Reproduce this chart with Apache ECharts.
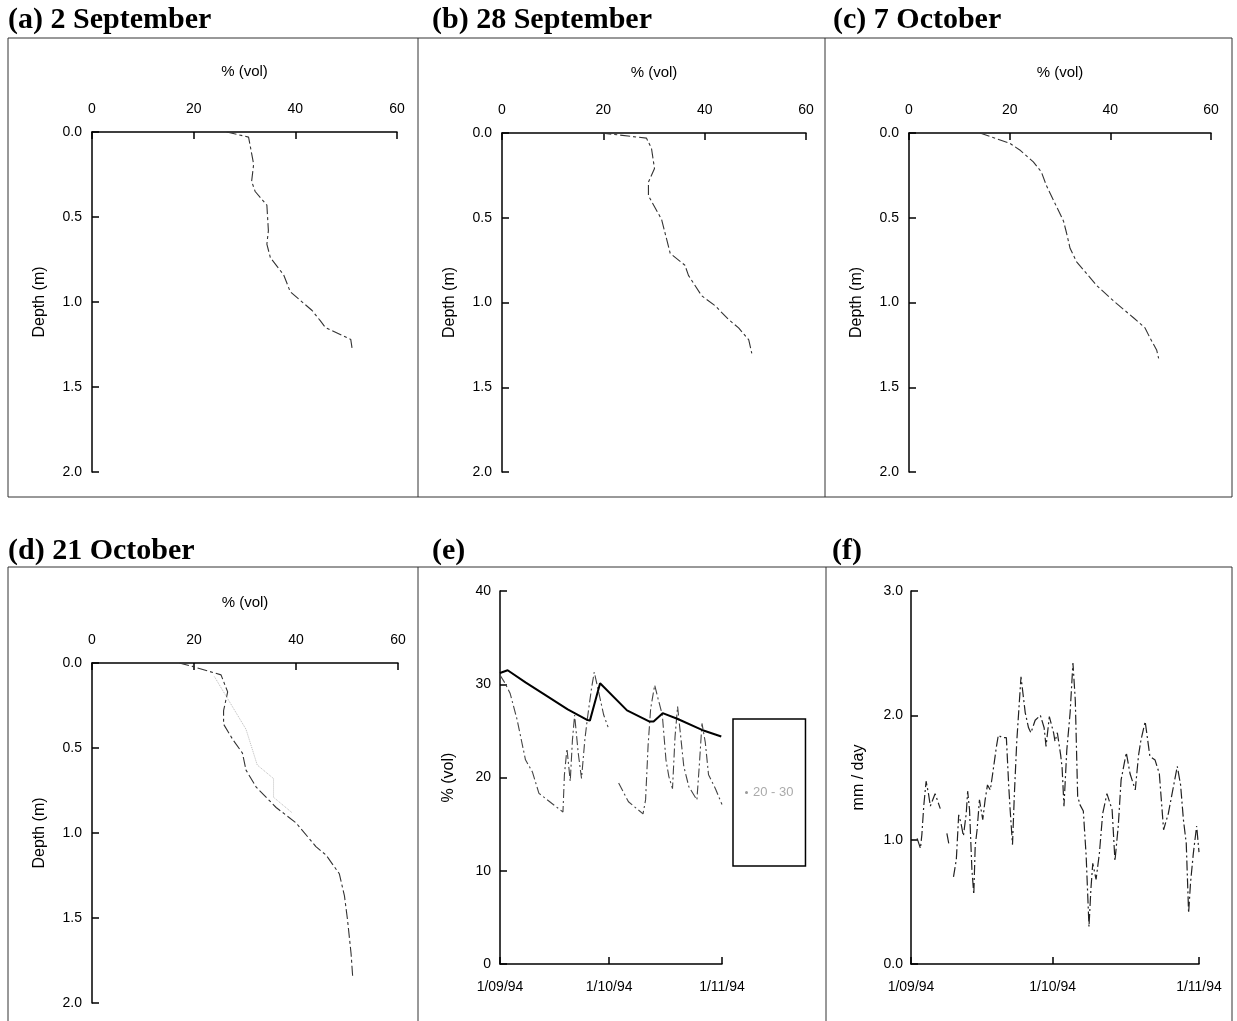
<!DOCTYPE html>
<html><head><meta charset="utf-8">
<script src="https://cdn.jsdelivr.net/npm/echarts@6/dist/echarts.min.js"></script>
<style>html,body{margin:0;padding:0;background:#fff}#c{width:1237px;height:1021px}</style>
</head><body><div id="c"></div>
<script>
// ---- Data ----
// Profiles: soil water content (% vol) against depth (m)
const depthA = [0, 0.03, 0.19, 0.29, 0.35, 0.43, 0.58, 0.66, 0.74, 0.84, 0.94, 1.05, 1.11, 1.15, 1.22, 1.28];
const volA   = [26.5, 30.8, 31.8, 31.4, 32.1, 34.4, 34.7, 34.4, 35.1, 37.7, 39.0, 43.3, 44.9, 45.9, 50.9, 51.2];

const depthB = [0, 0.03, 0.09, 0.21, 0.29, 0.37, 0.51, 0.71, 0.78, 0.84, 0.96, 1.02, 1.10, 1.15, 1.22, 1.30];
const volB   = [19.6, 28.5, 29.5, 30.1, 28.9, 28.9, 31.5, 33.2, 36.1, 36.8, 39.4, 42.1, 44.7, 46.7, 48.7, 49.3];

const depthC = [0, 0.06, 0.10, 0.17, 0.23, 0.31, 0.52, 0.59, 0.68, 0.76, 0.90, 0.99, 1.09, 1.15, 1.21, 1.28, 1.33];
const volC   = [14.1, 20.0, 22.0, 24.7, 26.3, 27.3, 30.7, 31.3, 32.0, 33.3, 37.3, 40.6, 44.6, 46.9, 47.9, 49.2, 49.6];

const depthD = [0, 0.02, 0.07, 0.17, 0.28, 0.36, 0.45, 0.53, 0.63, 0.73, 0.85, 0.94, 1.08, 1.13, 1.24, 1.37, 1.51, 1.71, 1.84];
const volD   = [17.1, 19.7, 25.3, 26.6, 25.8, 25.8, 27.6, 29.5, 30.2, 32.2, 36.1, 40.0, 43.9, 45.9, 48.5, 49.5, 50.1, 50.8, 51.1];
const depthD2 = [0.08, 0.39, 0.60, 0.68, 0.79, 0.88];
const volD2   = [24.0, 30.2, 32.4, 35.6, 35.6, 39.2];

// (e) time series, days since 1 Sep 1994
const eDaysDeep = [0, 2.1, 7, 12.6, 18.6, 23.8, 24.7, 27.5, 34.9, 41.1, 42.2, 44.7, 48.7, 55.5, 60.8];
const eVolDeep  = [31.2, 31.5, 30.2, 28.8, 27.3, 26.2, 26.1, 30.1, 27.2, 26.0, 26.0, 26.9, 26.3, 25.1, 24.4];
const eDaysTop = [0, 1.4, 2.8, 4.7, 7, 8.9, 10.7, 17.3, 17.7, 18.4, 19.3, 19.9, 20.5, 21.5, 22.4, 23.3, 24, 25.2, 25.9, 28.5, 29.7, 31, 32.6, 35.3, 39.3, 40, 40.7, 41.4, 42.5, 43.4, 44.6, 45.6, 46.4, 47.4, 48.1, 48.8, 50.5, 51.9, 54.1, 54.8, 55.5, 56.4, 57.3, 59.2, 61];
const eVolTop  = [31.0, 30.1, 29.0, 26.2, 21.9, 20.6, 18.3, 16.3, 20.3, 23.1, 19.6, 24.0, 26.7, 22.6, 19.9, 24.0, 26.3, 29.7, 31.3, 26.7, 25.4, null, 19.4, 17.4, 16.1, 17.6, 23.5, 27.4, 29.9, 28.5, 26.7, 21.9, 20.1, 18.8, 24.4, 27.6, 21.2, 19.0, 17.6, 21.5, 25.8, 23.8, 20.3, 18.8, 17.1];

// (f) daily rate (mm/day)
const fDays = [1.3, 2.0, 2.3, 2.7, 3.2, 3.7, 4.1, 5.1, 6.2, 6.9, 7.6, 8.0, 8.5, 9.0, 9.6, 10.1, 10.6, 11.1, 11.7, 12.0, 12.4, 12.9, 13.3, 13.6, 14.0, 14.5, 15.2, 15.7, 16.2, 16.8, 17.3, 18.1, 18.5, 19.3, 20.2, 20.7, 21.0, 21.5, 21.9, 22.4, 22.9, 23.3, 24.2, 24.9, 25.4, 26.3, 27.4, 28.2, 28.6, 29.3, 30.2, 30.5, 31.0, 31.7, 32.0, 32.4, 33.0, 33.7, 34.3, 34.8, 35.3, 35.8, 36.5, 37.1, 37.7, 38.1, 38.5, 39.2, 39.9, 40.6, 41.5, 42.6, 43.2, 43.9, 44.5, 45.6, 46.4, 47.5, 48.2, 48.7, 49.6, 50.6, 51.7, 52.6, 53.5, 54.5, 55.2, 56.4, 57.1, 57.7, 58.3, 58.8, 59.2, 59.8, 60.5, 61];
const fRate = [1.01, 0.93, 1.04, 1.27, 1.47, 1.37, 1.27, 1.37, 1.25, null, 1.05, 0.97, null, 0.70, 0.84, 1.20, 1.13, 1.03, 1.21, 1.39, 1.24, 0.76, 0.56, 0.95, 1.08, 1.32, 1.16, 1.32, 1.44, 1.40, 1.53, 1.75, 1.84, 1.82, 1.82, 1.43, 1.24, 0.96, 1.37, 1.79, 2.08, 2.31, 2.02, 1.90, 1.86, 1.96, 2.00, 1.90, 1.75, 1.99, 1.86, 1.79, 1.86, 1.68, 1.58, 1.27, 1.72, 2.02, 2.42, 2.12, 1.35, 1.28, 1.23, 0.87, 0.30, 0.60, 0.81, 0.68, 0.89, 1.21, 1.37, 1.24, 0.83, 1.11, 1.48, 1.70, 1.53, 1.40, 1.68, 1.80, 1.95, 1.67, 1.64, 1.53, 1.08, 1.21, 1.35, 1.59, 1.44, 1.16, 0.97, 0.41, 0.65, 0.89, 1.11, 0.90];

// tick labels
const volTicks = [0, 20, 40, 60];
const depthTicks = ['0.0', '0.5', '1.0', '1.5', '2.0'];
const dateTickDays = [0, 30, 61];
const dateTickLabels = ['1/09/94', '1/10/94', '1/11/94'];
const titles = ['(a) 2 September', '(b) 28 September', '(c) 7 October', '(d) 21 October', '(e)', '(f)'];

// ---- Chart ----
const SANS = 'Liberation Sans, Arial, Helvetica, sans-serif';
const SERIF = 'Liberation Serif, Times New Roman, serif';
const chart = echarts.init(document.getElementById('c'), null, {renderer: 'canvas'});

const pairs = (xs, ys) => xs.map((x, i) => [x, ys[i] == null ? '-' : ys[i]]);
const prof = (d, v) => d.map((y, i) => [v[i], y]);

const axLine = {show: true, onZero: false, lineStyle: {color: '#000', width: 1.5}};
const axTick = {show: true, inside: true, length: 7, lineStyle: {color: '#000', width: 1.5}};
const lab = {color: '#000', fontSize: 14, fontFamily: SANS};
const nameStyle = {color: '#000', fontSize: 15, fontFamily: SANS};
const depthName = {color: '#000', fontSize: 16, fontFamily: SANS};

const grids = [
  {left: 92, top: 132, width: 305, height: 340},
  {left: 502, top: 133, width: 304, height: 339},
  {left: 909, top: 133, width: 302, height: 339},
  {left: 92, top: 663, width: 306, height: 340},
  {left: 500, top: 591, width: 222, height: 373},
  {left: 911, top: 591, width: 288, height: 373}
];

const xAxes = [], yAxes = [];
for (let i = 0; i < 4; i++) {
  xAxes.push({gridIndex: i, type: 'value', position: 'top', min: 0, max: 60, interval: 20,
    name: '% (vol)', nameLocation: 'middle', nameGap: 53, nameTextStyle: nameStyle,
    axisLine: axLine, axisTick: axTick, splitLine: {show: false},
    axisLabel: Object.assign({margin: 16, formatter: v => String(volTicks[volTicks.indexOf(v)])}, lab)});
  yAxes.push({gridIndex: i, type: 'value', inverse: true, min: 0, max: 2, interval: 0.5,
    name: 'Depth (m)', nameLocation: 'middle', nameGap: 44, nameRotate: 90, nameTextStyle: depthName,
    axisLine: axLine, axisTick: axTick, splitLine: {show: false},
    axisLabel: Object.assign({margin: 10, formatter: v => depthTicks[Math.round(v / 0.5)]}, lab)});
}
for (let i = 4; i < 6; i++) {
  xAxes.push({gridIndex: i, type: 'value', min: 0, max: 61,
    axisLine: axLine, splitLine: {show: false},
    axisTick: Object.assign({customValues: dateTickDays}, axTick),
    axisLabel: Object.assign({margin: 16, customValues: dateTickDays,
      formatter: v => dateTickLabels[dateTickDays.indexOf(v)]}, lab)});
}
yAxes.push({gridIndex: 4, type: 'value', min: 0, max: 40, interval: 10,
  name: '% (vol)', nameLocation: 'middle', nameGap: 43, nameRotate: 90, nameTextStyle: depthName,
  axisLine: axLine, axisTick: axTick, splitLine: {show: false},
  axisLabel: Object.assign({margin: 9}, lab)});
yAxes.push({gridIndex: 5, type: 'value', min: 0, max: 3, interval: 1,
  name: 'mm / day', nameLocation: 'middle', nameGap: 44, nameRotate: 90, nameTextStyle: depthName,
  axisLine: axLine, axisTick: axTick, splitLine: {show: false},
  axisLabel: Object.assign({margin: 8, formatter: v => v.toFixed(1)}, lab)});

const profLine = {color: '#333', width: 1.1, type: [10, 3, 3, 3]};
const series = [
  {type: 'line', name: 'a', xAxisIndex: 0, yAxisIndex: 0, data: prof(depthA, volA), showSymbol: false, lineStyle: profLine, silent: true},
  {type: 'line', name: 'b', xAxisIndex: 1, yAxisIndex: 1, data: prof(depthB, volB), showSymbol: false, lineStyle: profLine, silent: true},
  {type: 'line', name: 'c', xAxisIndex: 2, yAxisIndex: 2, data: prof(depthC, volC), showSymbol: false, lineStyle: profLine, silent: true},
  {type: 'line', name: 'd', xAxisIndex: 3, yAxisIndex: 3, data: prof(depthD, volD), showSymbol: false, lineStyle: profLine, silent: true},
  {type: 'line', name: 'd2', xAxisIndex: 3, yAxisIndex: 3, data: prof(depthD2, volD2), showSymbol: false, lineStyle: {color: '#bbb', width: 1, type: 'dotted'}, silent: true},
  {type: 'line', name: '0 - 10', xAxisIndex: 4, yAxisIndex: 4, data: pairs(eDaysTop, eVolTop), showSymbol: false, connectNulls: false,
    lineStyle: {color: '#444', width: 1.1, type: [9, 3, 2, 3]}, silent: true},
  {type: 'line', name: '20 - 30', xAxisIndex: 4, yAxisIndex: 4, data: pairs(eDaysDeep, eVolDeep), showSymbol: false,
    lineStyle: {color: '#000', width: 2}, itemStyle: {color: '#999'}, silent: true},
  {type: 'line', name: 'f', xAxisIndex: 5, yAxisIndex: 5, data: pairs(fDays, fRate), showSymbol: false, connectNulls: false,
    lineStyle: {color: '#222', width: 1.2, type: [10, 3, 2, 3]}, silent: true}
];

const titlePos = [[8, 5], [432, 5], [833, 5], [8, 536], [432, 536], [832, 536]];
const title = titles.map((t, i) => ({text: t, left: titlePos[i][0], top: titlePos[i][1], padding: 0,
  textStyle: {fontFamily: SERIF, fontWeight: 'bold', fontSize: 30, color: '#000'}}));

const frame = [];
const L = (x1, y1, x2, y2) => frame.push({type: 'line', silent: true, shape: {x1, y1, x2, y2}, style: {stroke: '#333', lineWidth: 1}});
L(8, 38, 1232, 38); L(8, 497, 1232, 497);
[8, 418, 825, 1232].forEach(x => L(x, 38, x, 497));
L(8, 567, 1232, 567);
[8, 418, 826, 1232].forEach(x => L(x, 567, x, 1021));

chart.setOption({
  animation: false,
  backgroundColor: '#fff',
  title,
  grid: grids,
  xAxis: xAxes,
  yAxis: yAxes,
  legend: {data: ['20 - 30'], left: 733, top: 719, orient: 'vertical', padding: [67, 12],
    borderColor: '#000', borderWidth: 1.5, icon: 'circle', itemWidth: 3, itemHeight: 3, itemGap: 5,
    selectedMode: false, textStyle: {color: '#aaa', fontSize: 13, fontFamily: SANS}},
  graphic: frame,
  series
});
</script></body></html>
